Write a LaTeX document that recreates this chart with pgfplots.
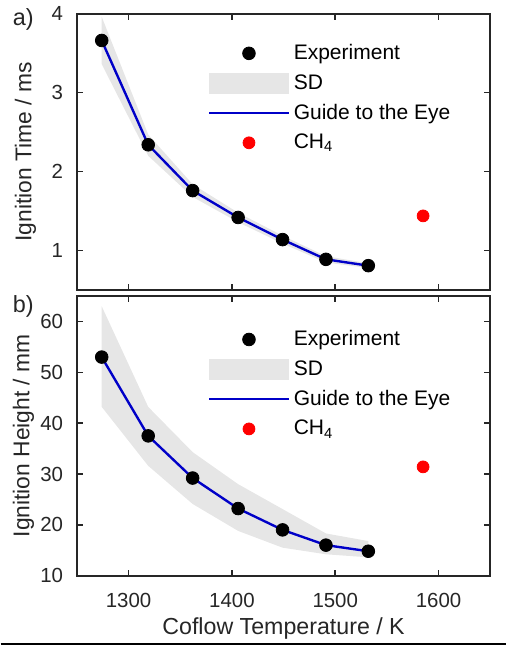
\documentclass[border=0pt]{standalone}
\usepackage{pgfplots}
\pgfplotsset{compat=1.18}
\usepgfplotslibrary{fillbetween}
\usepackage{fontspec}
\setmainfont{Liberation Sans}
\definecolor{framec}{RGB}{38,38,38}
\definecolor{bandc}{RGB}{230,230,230}
\definecolor{guide}{RGB}{0,0,200}
\pgfplotsset{
  legexp/.style={legend image code/.code={\path[draw=none,fill=none] (0pt,-5.25pt) rectangle (40pt,5.25pt); \fill[black] (20pt,0pt) circle (3.2pt);}},
  legsd/.style={legend image code/.code={\fill[bandc, draw=none] (0pt,-5.25pt) rectangle (40pt,5.25pt);}},
  legguide/.style={legend image code/.code={\path[draw=none,fill=none] (0pt,-5.25pt) rectangle (40pt,5.25pt); \draw[guide, line width=1.2pt] (0pt,0pt) -- (40pt,0pt);}},
  legch/.style={legend image code/.code={\path[draw=none,fill=none] (0pt,-5.25pt) rectangle (40pt,5.25pt); \fill[red] (20pt,0pt) circle (3pt);}},
  myaxis/.style={
    scale only axis, width=208.5pt, anchor=south west,
    xmin=1250, xmax=1650, xtick={1300,1400,1500,1600},
    axis line style={framec, line width=0.9pt},
    tick style={framec, line width=0.8pt},
    tick align=inside, major tick length=3pt,
    xtick pos=both, ytick pos=both,
    ticklabel style={font=\fontsize{10.3}{12}\selectfont, text=framec},
    yticklabel style={xshift=-3.5pt},
    xticklabel style={yshift=-5.5pt},
    /pgf/number format/assume math mode=true,
    /pgf/number format/1000 sep={},
    legend style={draw=none, fill=none, anchor=north west, inner sep=0pt,
      font=\fontsize{10.6}{12}\selectfont, text=black, row sep=2pt,
      cells={anchor=west}},
  },
}
\begin{document}
\begin{tikzpicture}
% Top panel
\begin{axis}[myaxis, at={(38.5pt,180pt)}, height=139.5pt,
  ymin=0.5, ymax=4, ytick={1,2,3,4}, xticklabels={},
  ylabel={Ignition Time / ms},
  every axis y label/.style={at={(axis description cs:-0.1247,0.5)}, rotate=90, anchor=center, font=\fontsize{11.5}{13}\selectfont, text=framec},
  legend style={at={(axis description cs:0.3165,0.905)}}]
\addplot[name path=up, draw=none, forget plot] coordinates {(1274,3.96) (1319,2.47) (1362,1.84) (1406,1.48) (1449,1.19) (1491,0.93) (1532,0.84)};
\addplot[name path=lo, draw=none, forget plot] coordinates {(1274,3.36) (1319,2.20) (1362,1.68) (1406,1.36) (1449,1.09) (1491,0.85) (1532,0.78)};
\addplot[bandc, forget plot] fill between[of=up and lo];
\addplot[guide, line width=1.2pt, forget plot] coordinates {(1274,3.66) (1319,2.34) (1362,1.76) (1406,1.42) (1449,1.14) (1491,0.89) (1532,0.81)};
\addplot[only marks, mark=*, mark size=3.2pt, black, forget plot] coordinates {(1274,3.66) (1319,2.34) (1362,1.76) (1406,1.42) (1449,1.14) (1491,0.89) (1532,0.81)};
\addplot[only marks, mark=*, mark size=3pt, red, forget plot] coordinates {(1585,1.44)};
\addlegendimage{legexp}\addlegendentry{Experiment}
\addlegendimage{legsd}\addlegendentry{SD}
\addlegendimage{legguide}\addlegendentry{Guide to the Eye}
\addlegendimage{legch}\addlegendentry{CH\textsubscript{4}}
\end{axis}
% Bottom panel
\begin{axis}[myaxis, at={(38.5pt,36pt)}, height=141pt,
  ymin=10, ymax=65, ytick={10,20,30,40,50,60},
  ylabel={Ignition Height / mm}, xlabel={Coflow Temperature / K},
  every axis y label/.style={at={(axis description cs:-0.1295,0.5)}, rotate=90, anchor=center, font=\fontsize{11.5}{13}\selectfont, text=framec},
  every axis x label/.style={at={(axis description cs:0.5,-0.188)}, anchor=center, font=\fontsize{11.7}{13}\selectfont, text=framec},
  legend style={at={(axis description cs:0.3165,0.893)}}]
\addplot[name path=up, draw=none, forget plot] coordinates {(1274,63.0) (1319,43.2) (1362,34.3) (1406,28.0) (1449,23.1) (1491,18.3) (1532,16.8)};
\addplot[name path=lo, draw=none, forget plot] coordinates {(1274,43.2) (1319,31.6) (1362,24.1) (1406,18.8) (1449,15.5) (1491,14.2) (1532,13.6)};
\addplot[bandc, forget plot] fill between[of=up and lo];
\addplot[guide, line width=1.2pt, forget plot] coordinates {(1274,53.0) (1319,37.5) (1362,29.2) (1406,23.2) (1449,19.0) (1491,16.0) (1532,14.8)};
\addplot[only marks, mark=*, mark size=3.2pt, black, forget plot] coordinates {(1274,53.0) (1319,37.5) (1362,29.2) (1406,23.2) (1449,19.0) (1491,16.0) (1532,14.8)};
\addplot[only marks, mark=*, mark size=3pt, red, forget plot] coordinates {(1585,31.4)};
\addlegendimage{legexp}\addlegendentry{Experiment}
\addlegendimage{legsd}\addlegendentry{SD}
\addlegendimage{legguide}\addlegendentry{Guide to the Eye}
\addlegendimage{legch}\addlegendentry{CH\textsubscript{4}}
\end{axis}
\node[font=\fontsize{11.8}{14}\selectfont, text=framec] at (11.5pt,316.5pt) {a)};
\node[font=\fontsize{11.8}{14}\selectfont, text=framec] at (11.5pt,172pt) {b)};
\draw[black, line width=0.6pt] (0pt,1.5pt) -- (255pt,1.5pt);
\path (0pt,0pt) rectangle (256pt,323.5pt);
\end{tikzpicture}
\end{document}
